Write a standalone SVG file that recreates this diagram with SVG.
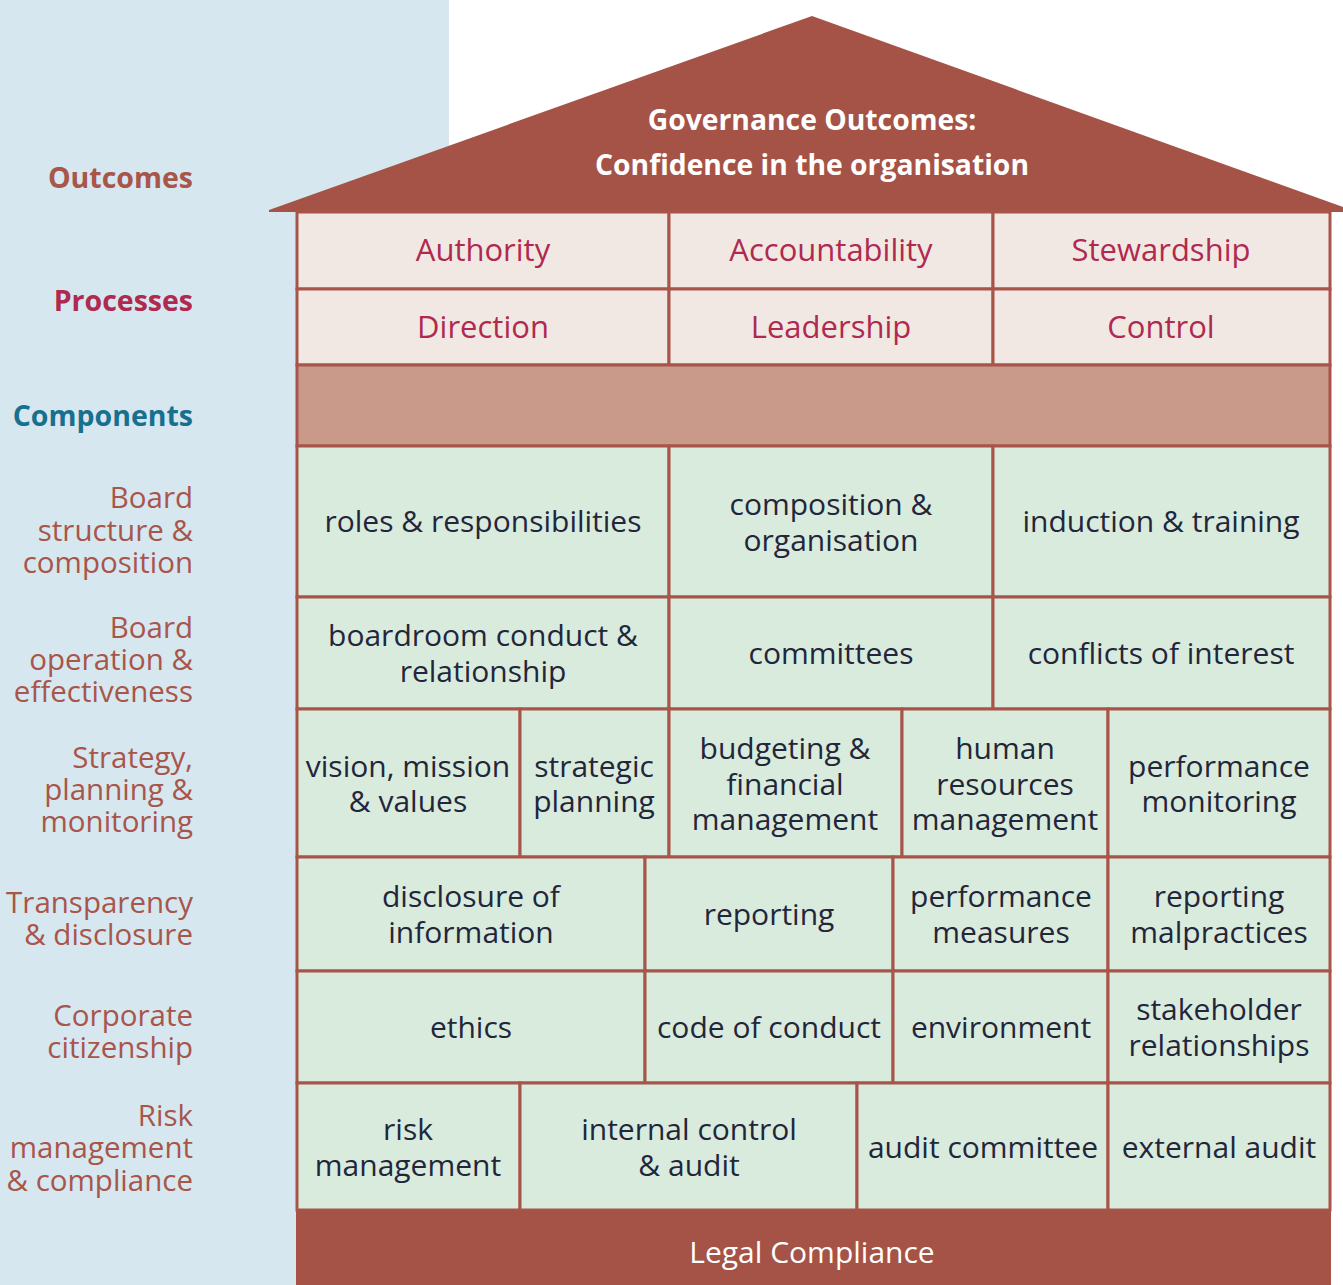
<svg xmlns="http://www.w3.org/2000/svg" width="1343" height="1285" viewBox="0 0 1343 1285">
<style>
text{font-family:"Open Sans","Noto Sans","DejaVu Sans",sans-serif;font-size:30px}
.cell{fill:#d9ebdd;stroke:#a8544a;stroke-width:3}
.proc{fill:#f1e8e3;stroke:#a8544a;stroke-width:3}
.t{fill:#23263a;text-anchor:middle}
.p{fill:#b0294f;text-anchor:middle;font-size:31px}
.lbl{fill:#a8554a;text-anchor:end;font-size:29.5px}
.hd{font-weight:bold;text-anchor:end;font-size:28.5px}
.w{fill:#ffffff;text-anchor:middle}
.roofT{font-weight:bold;font-size:28.3px}
</style>
<rect x="0" y="0" width="1343" height="1285" fill="#ffffff"/>
<g id="left-panel">
<rect x="0" y="0" width="449" height="215" fill="#d6e7f0"/>
<rect x="0" y="0" width="297" height="1285" fill="#d6e7f0"/>
<text class="hd" x="193" y="188" fill="#a8554a">Outcomes</text>
<text class="hd" x="193" y="311" fill="#b0294f">Processes</text>
<text class="hd" x="193" y="426" fill="#17708f">Components</text>
<text class="lbl" x="193" y="508">Board</text>
<text class="lbl" x="193" y="541">structure &amp;</text>
<text class="lbl" x="193" y="573">composition</text>
<text class="lbl" x="193" y="638">Board</text>
<text class="lbl" x="193" y="670">operation &amp;</text>
<text class="lbl" x="193" y="702">effectiveness</text>
<text class="lbl" x="193" y="768">Strategy,</text>
<text class="lbl" x="193" y="800">planning &amp;</text>
<text class="lbl" x="193" y="832">monitoring</text>
<text class="lbl" x="193" y="913">Transparency</text>
<text class="lbl" x="193" y="945">&amp; disclosure</text>
<text class="lbl" x="193" y="1026">Corporate</text>
<text class="lbl" x="193" y="1058">citizenship</text>
<text class="lbl" x="193" y="1126">Risk</text>
<text class="lbl" x="193" y="1158">management</text>
<text class="lbl" x="193" y="1191">&amp; compliance</text>
</g>
<g id="roof">
<polygon points="269,210 812,16 1343,207 1343,212 269,212" fill="#a55346"/>
<text class="w roofT" x="812" y="130">Governance Outcomes:</text>
<text class="w roofT" x="812" y="175">Confidence in the organisation</text>
</g>
<g id="processes">
<g id="authority"><rect class="proc" x="297" y="212" width="372" height="77"/><text class="p" x="483" y="261">Authority</text></g>
<g id="accountability"><rect class="proc" x="669" y="212" width="324" height="77"/><text class="p" x="831" y="261">Accountability</text></g>
<g id="stewardship"><rect class="proc" x="993" y="212" width="337" height="77"/><text class="p" x="1161" y="261">Stewardship</text></g>
<g id="direction"><rect class="proc" x="297" y="289" width="372" height="76"/><text class="p" x="483" y="338">Direction</text></g>
<g id="leadership"><rect class="proc" x="669" y="289" width="324" height="76"/><text class="p" x="831" y="338">Leadership</text></g>
<g id="control"><rect class="proc" x="993" y="289" width="337" height="76"/><text class="p" x="1161" y="338">Control</text></g>
</g>
<g id="components-band"><rect x="297" y="365" width="1033" height="81" fill="#c99a8a" stroke="#a8544a" stroke-width="3"/></g>
<g id="components">
<g id="roles"><rect class="cell" x="297" y="446" width="372" height="151"/><text class="t" x="483" y="532">roles &amp; responsibilities</text></g>
<g id="composition"><rect class="cell" x="669" y="446" width="324" height="151"/><text class="t" x="831" y="515">composition &amp;</text><text class="t" x="831" y="551">organisation</text></g>
<g id="induction"><rect class="cell" x="993" y="446" width="337" height="151"/><text class="t" x="1161" y="532">induction &amp; training</text></g>
<g id="boardroom"><rect class="cell" x="297" y="597" width="372" height="112"/><text class="t" x="483" y="646">boardroom conduct &amp;</text><text class="t" x="483" y="682">relationship</text></g>
<g id="committees"><rect class="cell" x="669" y="597" width="324" height="112"/><text class="t" x="831" y="664">committees</text></g>
<g id="conflicts"><rect class="cell" x="993" y="597" width="337" height="112"/><text class="t" x="1161" y="664">conflicts of interest</text></g>
<g id="vision"><rect class="cell" x="297" y="709" width="223" height="148"/><text class="t" x="408" y="777">vision, mission</text><text class="t" x="408" y="812">&amp; values</text></g>
<g id="strategic"><rect class="cell" x="520" y="709" width="149" height="148"/><text class="t" x="594" y="777">strategic</text><text class="t" x="594" y="812">planning</text></g>
<g id="budgeting"><rect class="cell" x="669" y="709" width="233" height="148"/><text class="t" x="785" y="759">budgeting &amp;</text><text class="t" x="785" y="795">financial</text><text class="t" x="785" y="830">management</text></g>
<g id="hr"><rect class="cell" x="902" y="709" width="206" height="148"/><text class="t" x="1005" y="759">human</text><text class="t" x="1005" y="795">resources</text><text class="t" x="1005" y="830">management</text></g>
<g id="perfmon"><rect class="cell" x="1108" y="709" width="222" height="148"/><text class="t" x="1219" y="777">performance</text><text class="t" x="1219" y="812">monitoring</text></g>
<g id="disclosure"><rect class="cell" x="297" y="857" width="348" height="114"/><text class="t" x="471" y="907">disclosure of</text><text class="t" x="471" y="943">information</text></g>
<g id="reporting"><rect class="cell" x="645" y="857" width="248" height="114"/><text class="t" x="769" y="925">reporting</text></g>
<g id="perfmeas"><rect class="cell" x="893" y="857" width="215" height="114"/><text class="t" x="1001" y="907">performance</text><text class="t" x="1001" y="943">measures</text></g>
<g id="malpractices"><rect class="cell" x="1108" y="857" width="222" height="114"/><text class="t" x="1219" y="907">reporting</text><text class="t" x="1219" y="943">malpractices</text></g>
<g id="ethics"><rect class="cell" x="297" y="971" width="348" height="112"/><text class="t" x="471" y="1038">ethics</text></g>
<g id="code"><rect class="cell" x="645" y="971" width="248" height="112"/><text class="t" x="769" y="1038">code of conduct</text></g>
<g id="environment"><rect class="cell" x="893" y="971" width="215" height="112"/><text class="t" x="1001" y="1038">environment</text></g>
<g id="stakeholder"><rect class="cell" x="1108" y="971" width="222" height="112"/><text class="t" x="1219" y="1020">stakeholder</text><text class="t" x="1219" y="1056">relationships</text></g>
<g id="risk"><rect class="cell" x="297" y="1083" width="223" height="127"/><text class="t" x="408" y="1140">risk</text><text class="t" x="408" y="1176">management</text></g>
<g id="internal"><rect class="cell" x="520" y="1083" width="337" height="127"/><text class="t" x="689" y="1140">internal control</text><text class="t" x="689" y="1176">&amp; audit</text></g>
<g id="auditcom"><rect class="cell" x="857" y="1083" width="251" height="127"/><text class="t" x="983" y="1158">audit committee</text></g>
<g id="external"><rect class="cell" x="1108" y="1083" width="222" height="127"/><text class="t" x="1219" y="1158">external audit</text></g>
</g>
<g id="legal"><rect x="296" y="1210" width="1035" height="75" fill="#a55346"/><text class="w" x="812" y="1263">Legal Compliance</text></g>
<g id="connectors"/>
</svg>
